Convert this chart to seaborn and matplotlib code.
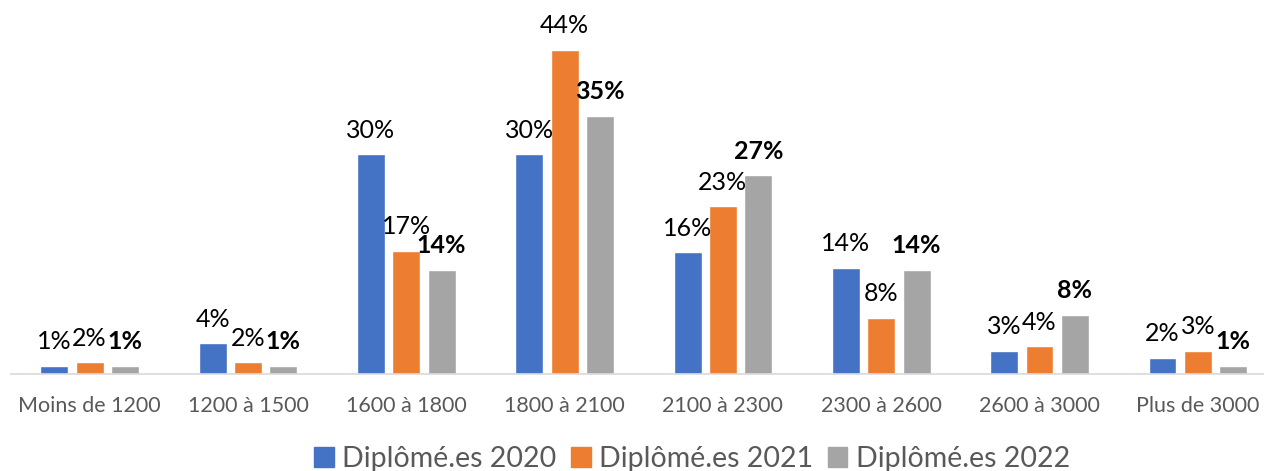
import matplotlib
matplotlib.use('Agg')
import matplotlib.pyplot as plt
import matplotlib.patches as mpatches
import seaborn as sns
import pandas as pd

categories = ['Moins de 1200', '1200 à 1500', '1600 à 1800', '1800 à 2100',
              '2100 à 2300', '2300 à 2600', '2600 à 3000', 'Plus de 3000']
series = ['Diplômé.es 2020', 'Diplômé.es 2021', 'Diplômé.es 2022']
vals_2020 = [1.1, 4.2, 30.0, 30.0, 16.6, 14.5, 3.2, 2.2]
vals_2021 = [1.6, 1.6, 16.8, 44.2, 22.9, 7.7, 3.8, 3.2]
vals_2022 = [1.1, 1.1, 14.2, 35.2, 27.1, 14.2, 8.1, 1.1]
labels_2020 = ['1%', '4%', '30%', '30%', '16%', '14%', '3%', '2%']
labels_2021 = ['2%', '2%', '17%', '44%', '23%', '8%', '4%', '3%']
labels_2022 = ['1%', '1%', '14%', '35%', '27%', '14%', '8%', '1%']
colors = ['#4472C4', '#ED7D31', '#A5A5A5']

rows = []
for s, vals in zip(series, [vals_2020, vals_2021, vals_2022]):
    for c, v in zip(categories, vals):
        rows.append({'cat': c, 'serie': s, 'val': v})
df = pd.DataFrame(rows)

sns.set_style('white')
plt.rcParams['font.family'] = ['Lato', 'DejaVu Sans']

fig = plt.figure(figsize=(12.64, 4.71), dpi=100)
ax = fig.add_axes([10.5/1264, 97/471, 1266.5/1264, 352/471])

sns.barplot(data=df, x='cat', y='val', hue='serie', palette=colors,
            width=0.67, gap=0.21, ax=ax, legend=False, saturation=1)

ax.set_ylim(0, 48)
ax.set_xlim(-0.5, 7.5)
ax.set_xlabel('')
ax.set_ylabel('')
ax.set_yticks([])
ax.tick_params(axis='x', length=0, labelsize=15.5, colors='#595959', pad=16)
for sp in ['top', 'right', 'left']:
    ax.spines[sp].set_visible(False)
ax.spines['bottom'].set_color('#D9D9D9')
ax.spines['bottom'].set_linewidth(1.2)

all_labels = [labels_2020, labels_2021, labels_2022]
for i, cont in enumerate(ax.containers):
    ax.bar_label(cont, labels=all_labels[i], padding=9, fontsize=18,
                 color='black', fontweight='bold' if i == 2 else 'normal')

handles = [mpatches.Patch(color=c, label=s) for c, s in zip(colors, series)]
fig.legend(handles=handles, loc='center', bbox_to_anchor=(692/1264, 1 - 459/471),
           ncol=3, frameon=False, fontsize=20.5, labelcolor='#595959',
           handlelength=0.7, handleheight=0.7, handletextpad=0.3,
           columnspacing=0.5)

fig.savefig('out.png', dpi=100)
